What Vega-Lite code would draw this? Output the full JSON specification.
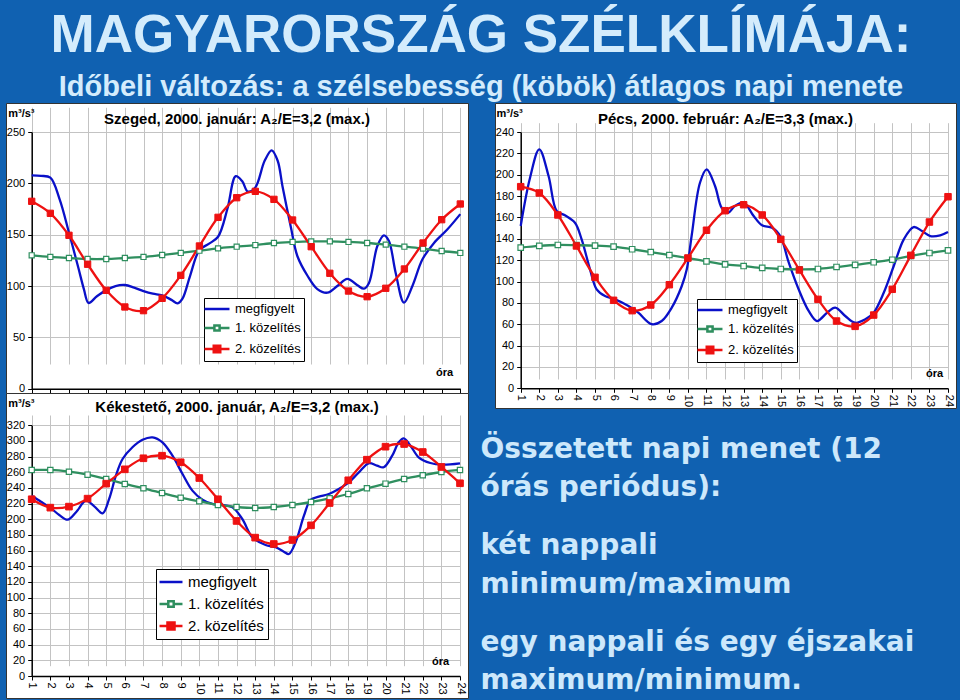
{
"$schema": "https://vega.github.io/schema/vega-lite/v6.json",
"background": "#1061b1",
"padding": {"left": 5, "top": 9, "right": 6, "bottom": 0},
"title": {"text": "MAGYARORSZÁG SZÉLKLÍMÁJA:", "subtitle": "Időbeli változás: a szélsebesség (köbök) átlagos napi menete", "anchor": "middle", "frame": "bounds", "font": "Liberation Sans", "fontSize": 53, "fontWeight": "bold", "color": "#d4ecfc", "subtitleFont": "Liberation Sans", "subtitleFontSize": 29, "subtitleFontWeight": "bold", "subtitleColor": "#d4ecfc", "subtitlePadding": 10, "offset": 1},
"datasets": {
"sz": [
{"h":1,"s":"megfigyelt","v":207.8},{"h":1.5,"s":"megfigyelt","v":207.3},{"h":2,"s":"megfigyelt","v":205.5},{"h":2.5,"s":"megfigyelt","v":184.4},{"h":3,"s":"megfigyelt","v":152},{"h":3.5,"s":"megfigyelt","v":118},{"h":3.8,"s":"megfigyelt","v":97},{"h":4.05,"s":"megfigyelt","v":83.5},{"h":4.5,"s":"megfigyelt","v":90},{"h":5,"s":"megfigyelt","v":96},{"h":5.5,"s":"megfigyelt","v":100},{"h":6,"s":"megfigyelt","v":101},{"h":6.5,"s":"megfigyelt","v":98.4},{"h":7,"s":"megfigyelt","v":95},{"h":7.5,"s":"megfigyelt","v":92.5},{"h":8,"s":"megfigyelt","v":91},{"h":8.5,"s":"megfigyelt","v":86.5},{"h":8.83,"s":"megfigyelt","v":83.2},{"h":9.1,"s":"megfigyelt","v":88},{"h":9.5,"s":"megfigyelt","v":110},{"h":10,"s":"megfigyelt","v":135},{"h":10.5,"s":"megfigyelt","v":141},{"h":11,"s":"megfigyelt","v":148},{"h":11.5,"s":"megfigyelt","v":175},{"h":11.95,"s":"megfigyelt","v":207},{"h":12.3,"s":"megfigyelt","v":202},{"h":12.6,"s":"megfigyelt","v":192},{"h":13,"s":"megfigyelt","v":196},{"h":13.5,"s":"megfigyelt","v":222},{"h":13.88,"s":"megfigyelt","v":232.2},{"h":14.2,"s":"megfigyelt","v":222},{"h":14.46,"s":"megfigyelt","v":197},{"h":14.9,"s":"megfigyelt","v":158},{"h":15.26,"s":"megfigyelt","v":129},{"h":15.8,"s":"megfigyelt","v":110},{"h":16.33,"s":"megfigyelt","v":97},{"h":16.87,"s":"megfigyelt","v":93.5},{"h":17.4,"s":"megfigyelt","v":100},{"h":17.94,"s":"megfigyelt","v":107},{"h":18.48,"s":"megfigyelt","v":100.7},{"h":18.83,"s":"megfigyelt","v":97.4},{"h":19.1,"s":"megfigyelt","v":103},{"h":19.55,"s":"megfigyelt","v":139},{"h":19.9,"s":"megfigyelt","v":149.4},{"h":20.17,"s":"megfigyelt","v":143.8},{"h":20.53,"s":"megfigyelt","v":113},{"h":20.98,"s":"megfigyelt","v":83.8},{"h":21.43,"s":"megfigyelt","v":100},{"h":21.97,"s":"megfigyelt","v":126},{"h":22.59,"s":"megfigyelt","v":142},{"h":23.3,"s":"megfigyelt","v":155},{"h":24,"s":"megfigyelt","v":170},
{"h":1,"s":"1. közelítés","v":129.9},{"h":2,"s":"1. közelítés","v":128.3},{"h":3,"s":"1. közelítés","v":127.3},{"h":4,"s":"1. közelítés","v":126.3},{"h":5,"s":"1. közelítés","v":126.3},{"h":6,"s":"1. közelítés","v":127.3},{"h":7,"s":"1. közelítés","v":128.3},{"h":8,"s":"1. közelítés","v":130.2},{"h":9,"s":"1. közelítés","v":132.2},{"h":10,"s":"1. közelítés","v":134.4},{"h":11,"s":"1. közelítés","v":136.7},{"h":12,"s":"1. közelítés","v":138.3},{"h":13,"s":"1. közelítés","v":139.9},{"h":14,"s":"1. közelítés","v":141.9},{"h":15,"s":"1. közelítés","v":142.9},{"h":16,"s":"1. közelítés","v":143.5},{"h":17,"s":"1. közelítés","v":143.5},{"h":18,"s":"1. közelítés","v":142.9},{"h":19,"s":"1. közelítés","v":141.9},{"h":20,"s":"1. közelítés","v":140.3},{"h":21,"s":"1. közelítés","v":138.3},{"h":22,"s":"1. közelítés","v":136.4},{"h":23,"s":"1. közelítés","v":134.1},{"h":24,"s":"1. közelítés","v":132.2},
{"h":1,"s":"2. közelítés","v":182.5},{"h":2,"s":"2. közelítés","v":170.8},{"h":3,"s":"2. közelítés","v":149.4},{"h":4,"s":"2. közelítés","v":121.2},{"h":5,"s":"2. közelítés","v":95.8},{"h":6,"s":"2. közelítés","v":79.6},{"h":7,"s":"2. közelítés","v":76},{"h":8,"s":"2. közelítés","v":88},{"h":9,"s":"2. közelítés","v":110.4},{"h":10,"s":"2. közelítés","v":139},{"h":11,"s":"2. közelítés","v":166.9},{"h":12,"s":"2. közelítés","v":186},{"h":13,"s":"2. közelítés","v":192.2},{"h":14,"s":"2. közelítés","v":184.4},{"h":15,"s":"2. közelítés","v":164.3},{"h":16,"s":"2. közelítés","v":138.3},{"h":17,"s":"2. közelítés","v":112.4},{"h":18,"s":"2. közelítés","v":95.1},{"h":19,"s":"2. közelítés","v":89.6},{"h":20,"s":"2. közelítés","v":97.8},{"h":21,"s":"2. közelítés","v":116.6},{"h":22,"s":"2. közelítés","v":141.9},{"h":23,"s":"2. közelítés","v":164.6},{"h":24,"s":"2. közelítés","v":179.9}
],
"pe": [
{"h":1,"s":"megfigyelt","v":152},{"h":1.5,"s":"megfigyelt","v":197},{"h":2,"s":"megfigyelt","v":223.8},{"h":2.5,"s":"megfigyelt","v":198.8},{"h":2.94,"s":"megfigyelt","v":166},{"h":3.38,"s":"megfigyelt","v":162},{"h":3.92,"s":"megfigyelt","v":155},{"h":4.28,"s":"megfigyelt","v":139.5},{"h":4.73,"s":"megfigyelt","v":111.4},{"h":5.09,"s":"megfigyelt","v":92.7},{"h":5.54,"s":"megfigyelt","v":86.4},{"h":6.08,"s":"megfigyelt","v":83.3},{"h":6.8,"s":"megfigyelt","v":77.1},{"h":7.33,"s":"megfigyelt","v":70.8},{"h":8.05,"s":"megfigyelt","v":60},{"h":8.59,"s":"megfigyelt","v":63},{"h":9.13,"s":"megfigyelt","v":75.5},{"h":9.67,"s":"megfigyelt","v":95.8},{"h":9.94,"s":"megfigyelt","v":111.4},{"h":10.2,"s":"megfigyelt","v":142.6},{"h":10.65,"s":"megfigyelt","v":192.5},{"h":11.01,"s":"megfigyelt","v":205},{"h":11.46,"s":"megfigyelt","v":189.4},{"h":11.82,"s":"megfigyelt","v":169},{"h":12.17,"s":"megfigyelt","v":164.4},{"h":12.53,"s":"megfigyelt","v":170.7},{"h":13,"s":"megfigyelt","v":173.8},{"h":13.54,"s":"megfigyelt","v":161.3},{"h":13.99,"s":"megfigyelt","v":152.6},{"h":14.53,"s":"megfigyelt","v":150.4},{"h":14.97,"s":"megfigyelt","v":142.6},{"h":15.43,"s":"megfigyelt","v":117.6},{"h":15.96,"s":"megfigyelt","v":92.7},{"h":16.5,"s":"megfigyelt","v":72.4},{"h":16.95,"s":"megfigyelt","v":63},{"h":17.49,"s":"megfigyelt","v":70.8},{"h":17.93,"s":"megfigyelt","v":75.5},{"h":18.47,"s":"megfigyelt","v":67.7},{"h":19,"s":"megfigyelt","v":61.4},{"h":19.55,"s":"megfigyelt","v":64.6},{"h":20,"s":"megfigyelt","v":70.8},{"h":20.54,"s":"megfigyelt","v":89.5},{"h":21.08,"s":"megfigyelt","v":114.5},{"h":21.62,"s":"megfigyelt","v":139.5},{"h":22.15,"s":"megfigyelt","v":151},{"h":22.6,"s":"megfigyelt","v":147.3},{"h":23.05,"s":"megfigyelt","v":142.6},{"h":23.58,"s":"megfigyelt","v":143.3},{"h":24,"s":"megfigyelt","v":146.4},
{"h":1,"s":"1. közelítés","v":131.7},{"h":2,"s":"1. közelítés","v":133.3},{"h":3,"s":"1. közelítés","v":134.2},{"h":4,"s":"1. közelítés","v":134},{"h":5,"s":"1. közelítés","v":133.6},{"h":6,"s":"1. közelítés","v":132.6},{"h":7,"s":"1. közelítés","v":130.2},{"h":8,"s":"1. közelítés","v":127.6},{"h":9,"s":"1. közelítés","v":124.8},{"h":10,"s":"1. közelítés","v":122},{"h":11,"s":"1. közelítés","v":118.9},{"h":12,"s":"1. közelítés","v":116.1},{"h":13,"s":"1. közelítés","v":114.5},{"h":14,"s":"1. közelítés","v":112.7},{"h":15,"s":"1. közelítés","v":111.7},{"h":16,"s":"1. közelítés","v":111.4},{"h":17,"s":"1. közelítés","v":111.7},{"h":18,"s":"1. közelítés","v":113.6},{"h":19,"s":"1. közelítés","v":115.5},{"h":20,"s":"1. közelítés","v":118},{"h":21,"s":"1. közelítés","v":120.4},{"h":22,"s":"1. közelítés","v":123.9},{"h":23,"s":"1. közelítés","v":126.7},{"h":24,"s":"1. közelítés","v":129.2},
{"h":1,"s":"2. közelítés","v":188.8},{"h":2,"s":"2. közelítés","v":182.9},{"h":3,"s":"2. közelítés","v":162.3},{"h":4,"s":"2. közelítés","v":133.3},{"h":5,"s":"2. közelítés","v":103.9},{"h":6,"s":"2. közelítés","v":82.4},{"h":7,"s":"2. közelítés","v":72.7},{"h":8,"s":"2. közelítés","v":78},{"h":9,"s":"2. közelítés","v":97},{"h":10,"s":"2. közelítés","v":122},{"h":11,"s":"2. közelítés","v":148},{"h":12,"s":"2. közelítés","v":166.3},{"h":13,"s":"2. közelítés","v":171.9},{"h":14,"s":"2. közelítés","v":162.3},{"h":15,"s":"2. közelítés","v":139.5},{"h":16,"s":"2. közelítés","v":110.8},{"h":17,"s":"2. közelítés","v":83.3},{"h":18,"s":"2. közelítés","v":63},{"h":19,"s":"2. közelítés","v":58},{"h":20,"s":"2. közelítés","v":68.6},{"h":21,"s":"2. közelítés","v":92.7},{"h":22,"s":"2. közelítés","v":124.5},{"h":23,"s":"2. közelítés","v":155.7},{"h":24,"s":"2. közelítés","v":179.4}
],
"ke": [
{"h":1,"s":"megfigyelt","v":230},{"h":1.5,"s":"megfigyelt","v":222.5},{"h":2.04,"s":"megfigyelt","v":214},{"h":2.48,"s":"megfigyelt","v":205.5},{"h":2.93,"s":"megfigyelt","v":199.5},{"h":3.38,"s":"megfigyelt","v":209},{"h":3.91,"s":"megfigyelt","v":223.8},{"h":4.36,"s":"megfigyelt","v":216.6},{"h":4.81,"s":"megfigyelt","v":207.7},{"h":5.16,"s":"megfigyelt","v":226},{"h":5.52,"s":"megfigyelt","v":255.7},{"h":5.88,"s":"megfigyelt","v":277},{"h":6.41,"s":"megfigyelt","v":292},{"h":6.95,"s":"megfigyelt","v":301.6},{"h":7.49,"s":"megfigyelt","v":304.6},{"h":8.02,"s":"megfigyelt","v":298.3},{"h":8.56,"s":"megfigyelt","v":281.2},{"h":9.1,"s":"megfigyelt","v":257.8},{"h":9.63,"s":"megfigyelt","v":236.6},{"h":10.17,"s":"megfigyelt","v":225},{"h":10.7,"s":"megfigyelt","v":219.6},{"h":11.24,"s":"megfigyelt","v":218.3},{"h":11.78,"s":"megfigyelt","v":215.3},{"h":12.31,"s":"megfigyelt","v":200.4},{"h":12.85,"s":"megfigyelt","v":177},{"h":13.56,"s":"megfigyelt","v":167.2},{"h":14.1,"s":"megfigyelt","v":164.3},{"h":14.54,"s":"megfigyelt","v":158.7},{"h":14.81,"s":"megfigyelt","v":155.7},{"h":15.17,"s":"megfigyelt","v":170.7},{"h":15.62,"s":"megfigyelt","v":204.6},{"h":15.98,"s":"megfigyelt","v":225},{"h":16.42,"s":"megfigyelt","v":228.9},{"h":16.96,"s":"megfigyelt","v":232.3},{"h":17.49,"s":"megfigyelt","v":238.7},{"h":18.03,"s":"megfigyelt","v":247.2},{"h":18.57,"s":"megfigyelt","v":260},{"h":19.1,"s":"megfigyelt","v":271.5},{"h":19.54,"s":"megfigyelt","v":268.5},{"h":19.9,"s":"megfigyelt","v":266.4},{"h":20.36,"s":"megfigyelt","v":281.2},{"h":20.71,"s":"megfigyelt","v":298.3},{"h":20.98,"s":"megfigyelt","v":303.4},{"h":21.34,"s":"megfigyelt","v":294},{"h":21.78,"s":"megfigyelt","v":279.2},{"h":22.41,"s":"megfigyelt","v":271.9},{"h":23.04,"s":"megfigyelt","v":269.7},{"h":24,"s":"megfigyelt","v":271.5},
{"h":1,"s":"1. közelítés","v":263},{"h":2,"s":"1. közelítés","v":263},{"h":3,"s":"1. közelítés","v":260.8},{"h":4,"s":"1. közelítés","v":257},{"h":5,"s":"1. közelítés","v":251.5},{"h":6,"s":"1. közelítés","v":245.1},{"h":7,"s":"1. közelítés","v":239.6},{"h":8,"s":"1. közelítés","v":233.6},{"h":9,"s":"1. közelítés","v":227.6},{"h":10,"s":"1. közelítés","v":223},{"h":11,"s":"1. közelítés","v":218.3},{"h":12,"s":"1. közelítés","v":215.7},{"h":13,"s":"1. közelítés","v":214.5},{"h":14,"s":"1. közelítés","v":215.7},{"h":15,"s":"1. közelítés","v":218.3},{"h":16,"s":"1. közelítés","v":222.1},{"h":17,"s":"1. közelítés","v":226.8},{"h":18,"s":"1. közelítés","v":232.3},{"h":19,"s":"1. közelítés","v":239.6},{"h":20,"s":"1. közelítés","v":245.5},{"h":21,"s":"1. közelítés","v":251.5},{"h":22,"s":"1. közelítés","v":256.2},{"h":23,"s":"1. közelítés","v":260.4},{"h":24,"s":"1. közelítés","v":263},
{"h":1,"s":"2. közelítés","v":225.6},{"h":2,"s":"2. közelítés","v":214.9},{"h":3,"s":"2. közelítés","v":216.2},{"h":4,"s":"2. közelítés","v":226.4},{"h":5,"s":"2. közelítés","v":245.5},{"h":6,"s":"2. közelítés","v":263.8},{"h":7,"s":"2. közelítés","v":277.9},{"h":8,"s":"2. közelítés","v":281.2},{"h":9,"s":"2. közelítés","v":272.8},{"h":10,"s":"2. közelítés","v":252.7},{"h":11,"s":"2. közelítés","v":225.6},{"h":12,"s":"2. közelítés","v":197.9},{"h":13,"s":"2. közelítés","v":176.6},{"h":14,"s":"2. közelítés","v":168.5},{"h":15,"s":"2. közelítés","v":173.6},{"h":16,"s":"2. közelítés","v":192.3},{"h":17,"s":"2. közelítés","v":220.8},{"h":18,"s":"2. közelítés","v":249.8},{"h":19,"s":"2. közelítés","v":276.1},{"h":20,"s":"2. közelítés","v":292.7},{"h":21,"s":"2. közelítés","v":296.1},{"h":22,"s":"2. közelítés","v":285.9},{"h":23,"s":"2. közelítés","v":266.8},{"h":24,"s":"2. közelítés","v":246}
],
"txt": [
{"p":1,"t":"Összetett napi menet (12\nórás periódus):"},
{"p":2,"t":"két nappali\nminimum/maximum"},
{"p":3,"t":"egy nappali és egy éjszakai\nmaximum/minimum."}
]
},
"spacing": 11,
"resolve": {"scale": {"color": "independent", "x": "independent", "y": "independent"}, "legend": {"color": "independent"}},
"hconcat": [
{
"spacing": 0,
"bounds": "flush",
"resolve": {"scale": {"color": "independent", "x": "independent", "y": "independent"}, "legend": {"color": "independent"}},
"vconcat": [
{
"width": 462, "height": 290,
"view": {"fill": "white", "stroke": "#333333", "strokeWidth": 1},
"title": {"text": "Szeged, 2000. január: A₂/E=3,2  (max.)", "offset": -24, "fontSize": 15, "fontWeight": "bold", "anchor": "middle", "frame": "group"},
"data": {"name": "sz"},
"encoding": {
"x": {"field": "h", "type": "quantitative", "scale": {"domain": [1, 24], "range": [25.7, 454.3], "nice": false, "zero": false},
 "axis": {"values": [1,2,3,4,5,6,7,8,9,10,11,12,13,14,15,16,17,18,19,20,21,22,23,24], "offset": -4.3, "labels": false, "title": "óra", "titleX": 438, "titleY": -13, "titleAlign": "center", "titleBaseline": "alphabetic", "grid": true}},
"y": {"field": "v", "type": "quantitative", "scale": {"domain": [0, 250], "range": [285.7, 29], "nice": false, "zero": false},
 "axis": {"values": [0,50,100,150,200,250], "offset": -25.7, "title": "m³/s³", "titleAngle": 0, "titleX": -24, "titleY": 13.7, "titleAlign": "left", "titleBaseline": "alphabetic", "grid": true, "labelPadding": 3}}
},
"layer": [
{"mark": {"type": "line", "interpolate": "catmull-rom", "strokeWidth": 2.3},
 "encoding": {"color": {"field": "s", "type": "nominal", "scale": {"domain": ["megfigyelt", "1. közelítés", "2. közelítés"], "range": ["#0a10c8", "#2f8f5f", "#ee1111"]},
  "legend": {"orient": "none", "legendX": 198, "legendY": 195, "title": null, "direction": "vertical", "fillColor": "white", "strokeColor": "black", "padding": 3, "labelFontSize": 13, "labelFont": "Liberation Sans", "labelColor": "black", "symbolSize": 169, "symbolStrokeWidth": 2.5, "rowPadding": 4, "labelOffset": 10, "symbolOffset": 2,
   "encode": {"symbols": {"update": {"shape": [{"test": "datum.value === 'megfigyelt'", "value": "M-1.92,0H1.92"}, {"test": "datum.value === '1. közelítés'", "value": "M-1.92,0H-0.4M0.4,0H1.92M-0.4,-0.4H0.4V0.4H-0.4Z"}, {"value": "M-1.92,0H-0.5M0.5,0H1.92M-0.5,-0.5H0.5V0.5H-0.5Z"}], "fill": [{"test": "datum.value === '2. közelítés'", "value": "#ee1111"}, {"value": "white"}], "strokeWidth": {"value": 2.5}}}}}}}},
{"transform": [{"filter": "datum.s === '1. közelítés'"}], "mark": {"type": "point", "shape": "square", "filled": true, "fill": "white", "stroke": "#2f8f5f", "strokeWidth": 1.2, "size": 26, "opacity": 1}},
{"transform": [{"filter": "datum.s === '2. közelítés'"}], "mark": {"type": "point", "shape": "square", "filled": true, "fill": "#ee1111", "stroke": "#ee1111", "strokeWidth": 1, "size": 40, "opacity": 1}}
]
},
{
"width": 462, "height": 305,
"view": {"fill": "white", "stroke": "#333333", "strokeWidth": 1},
"title": {"text": "Kékestető, 2000. január, A₂/E=3,2 (max.)", "offset": -22, "fontSize": 15, "fontWeight": "bold", "anchor": "middle", "frame": "group"},
"data": {"name": "ke"},
"encoding": {
"x": {"field": "h", "type": "quantitative", "scale": {"domain": [1, 24], "range": [25.7, 454], "nice": false, "zero": false},
 "axis": {"values": [1,2,3,4,5,6,7,8,9,10,11,12,13,14,15,16,17,18,19,20,21,22,23,24], "offset": -22, "labelAngle": 90, "title": "óra", "titleX": 434, "titleY": -12, "titleAlign": "center", "titleBaseline": "alphabetic", "grid": true}},
"y": {"field": "v", "type": "quantitative", "scale": {"domain": [0, 320], "range": [283, 32.3], "nice": false, "zero": false},
 "axis": {"values": [0,20,40,60,80,100,120,140,160,180,200,220,240,260,280,300,320], "offset": -25.7, "title": "m³/s³", "titleAngle": 0, "titleX": -24, "titleY": 13, "titleAlign": "left", "titleBaseline": "alphabetic", "grid": true, "labelPadding": 3}}
},
"layer": [
{"mark": {"type": "line", "interpolate": "catmull-rom", "strokeWidth": 2.3},
 "encoding": {"color": {"field": "s", "type": "nominal", "scale": {"domain": ["megfigyelt", "1. közelítés", "2. közelítés"], "range": ["#0a10c8", "#2f8f5f", "#ee1111"]},
  "legend": {"orient": "none", "legendX": 150, "legendY": 176, "title": null, "direction": "vertical", "fillColor": "white", "strokeColor": "black", "padding": 4, "labelFontSize": 15, "labelFont": "Liberation Sans", "labelColor": "black", "symbolSize": 225, "symbolStrokeWidth": 2.5, "rowPadding": 5, "labelOffset": 8, "symbolOffset": 2,
   "encode": {"symbols": {"update": {"shape": [{"test": "datum.value === 'megfigyelt'", "value": "M-1.53,0H1.53"}, {"test": "datum.value === '1. közelítés'", "value": "M-1.53,0H-0.36M0.36,0H1.53M-0.36,-0.36H0.36V0.36H-0.36Z"}, {"value": "M-1.53,0H-0.47M0.47,0H1.53M-0.47,-0.47H0.47V0.47H-0.47Z"}], "fill": [{"test": "datum.value === '2. közelítés'", "value": "#ee1111"}, {"value": "white"}], "strokeWidth": {"value": 2.5}}}}}}}},
{"transform": [{"filter": "datum.s === '1. közelítés'"}], "mark": {"type": "point", "shape": "square", "filled": true, "fill": "white", "stroke": "#2f8f5f", "strokeWidth": 1.2, "size": 28, "opacity": 1}},
{"transform": [{"filter": "datum.s === '2. közelítés'"}], "mark": {"type": "point", "shape": "square", "filled": true, "fill": "#ee1111", "stroke": "#ee1111", "strokeWidth": 1, "size": 44, "opacity": 1}}
]
}
]
},
{
"spacing": 0,
"bounds": "flush",
"resolve": {"scale": {"color": "independent", "x": "independent", "y": "independent"}, "legend": {"color": "independent"}},
"vconcat": [
{
"width": 461, "height": 305,
"view": {"fill": "white", "stroke": "#333333", "strokeWidth": 1},
"title": {"text": "Pécs, 2000. február: A₂/E=3,3 (max.)", "offset": -24, "fontSize": 15, "fontWeight": "bold", "anchor": "middle", "frame": "group"},
"data": {"name": "pe"},
"encoding": {
"x": {"field": "h", "type": "quantitative", "scale": {"domain": [1, 24], "range": [25.7, 453], "nice": false, "zero": false},
 "axis": {"values": [1,2,3,4,5,6,7,8,9,10,11,12,13,14,15,16,17,18,19,20,21,22,23,24], "offset": -19.7, "labelAngle": 90, "title": "óra", "titleX": 439, "titleY": -12.3, "titleAlign": "center", "titleBaseline": "alphabetic", "grid": true}},
"y": {"field": "v", "type": "quantitative", "scale": {"domain": [0, 240], "range": [285.3, 29], "nice": false, "zero": false},
 "axis": {"values": [0,20,40,60,80,100,120,140,160,180,200,220,240], "offset": -25.7, "title": "m³/s³", "titleAngle": 0, "titleX": -24.7, "titleY": 13.7, "titleAlign": "left", "titleBaseline": "alphabetic", "grid": true, "labelPadding": 3}}
},
"layer": [
{"mark": {"type": "line", "interpolate": "catmull-rom", "strokeWidth": 2.3},
 "encoding": {"color": {"field": "s", "type": "nominal", "scale": {"domain": ["megfigyelt", "1. közelítés", "2. közelítés"], "range": ["#0a10c8", "#2f8f5f", "#ee1111"]},
  "legend": {"orient": "none", "legendX": 202, "legendY": 196, "title": null, "direction": "vertical", "fillColor": "white", "strokeColor": "black", "padding": 3, "labelFontSize": 13, "labelFont": "Liberation Sans", "labelColor": "black", "symbolSize": 169, "symbolStrokeWidth": 2.5, "rowPadding": 4, "labelOffset": 10, "symbolOffset": 2,
   "encode": {"symbols": {"update": {"shape": [{"test": "datum.value === 'megfigyelt'", "value": "M-1.92,0H1.92"}, {"test": "datum.value === '1. közelítés'", "value": "M-1.92,0H-0.4M0.4,0H1.92M-0.4,-0.4H0.4V0.4H-0.4Z"}, {"value": "M-1.92,0H-0.5M0.5,0H1.92M-0.5,-0.5H0.5V0.5H-0.5Z"}], "fill": [{"test": "datum.value === '2. közelítés'", "value": "#ee1111"}, {"value": "white"}], "strokeWidth": {"value": 2.5}}}}}}}},
{"transform": [{"filter": "datum.s === '1. közelítés'"}], "mark": {"type": "point", "shape": "square", "filled": true, "fill": "white", "stroke": "#2f8f5f", "strokeWidth": 1.2, "size": 30, "opacity": 1}},
{"transform": [{"filter": "datum.s === '2. közelítés'"}], "mark": {"type": "point", "shape": "square", "filled": true, "fill": "#ee1111", "stroke": "#ee1111", "strokeWidth": 1, "size": 42, "opacity": 1}}
]
},
{
"width": 461, "height": 293,
"view": {"stroke": null},
"data": {"name": "txt"},
"mark": {"type": "text", "align": "left", "baseline": "alphabetic", "lineBreak": "\n", "lineHeight": 38.5, "font": "DejaVu Sans", "fontWeight": "bold", "fontSize": 28, "color": "#cde8fb", "dx": -245},
"encoding": {
"y": {"field": "p", "type": "quantitative", "scale": {"domain": [0.485, 3.52], "reverse": true, "nice": false, "zero": false}, "axis": null},
"text": {"field": "t"}
}
}
]
}
],
"config": {
"view": {"stroke": null},
"axis": {"labelFont": "Liberation Sans", "labelFontSize": 11, "labelColor": "#000000", "titleFont": "Liberation Sans", "titleFontSize": 11, "titleFontWeight": "bold", "titleColor": "#000000", "tickColor": "#000000", "tickSize": 4, "tickWidth": 1, "domainColor": "#000000", "domainWidth": 1.5, "gridColor": "#c3c3c3", "gridWidth": 1, "labelFlush": false, "labelOverlap": false, "labelBound": false, "labelPadding": 2},
"title": {"font": "Liberation Sans", "color": "#000000"}
}
}
